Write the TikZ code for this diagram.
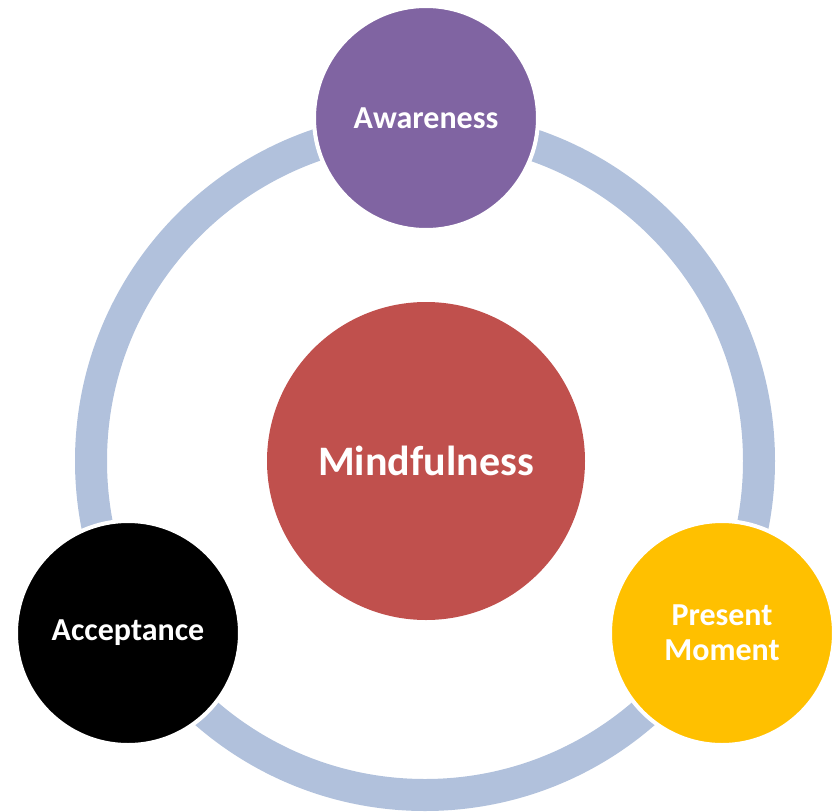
\documentclass[tikz,border=0pt]{standalone}
\usepackage{fontspec}
\setmainfont{Carlito}
\definecolor{ringblue}{HTML}{B1C1DC}
\definecolor{awpurple}{HTML}{8064A2}
\definecolor{mindred}{HTML}{C0504D}
\definecolor{presyellow}{HTML}{FFC000}
\begin{document}
\begin{tikzpicture}[x=1pt,y=-1pt,
   bubble/.style={circle,draw=white,line width=4pt,text=white,align=center,
     inner sep=0pt,minimum size=224pt,font=\bfseries\fontsize{32}{35}\selectfont}]
   \useasboundingbox (0,0) rectangle (839,812);
   % the ring behind the circles
   \draw[ringblue,line width=32pt] (425,461) circle(334);
   \node[bubble,fill=mindred,draw=none,minimum size=318pt,
     font=\bfseries\fontsize{42}{48}\selectfont] (mind) at (426,461) {Mindfulness};
   \node[bubble,fill=awpurple] (aware)   at (426,118) {Awareness};
   \node[bubble,fill=black]    (accept)  at (128,633) {Acceptance};
   \node[bubble,fill=presyellow] (present) at (722,633) {Present\\Moment};
\end{tikzpicture}
\end{document}
